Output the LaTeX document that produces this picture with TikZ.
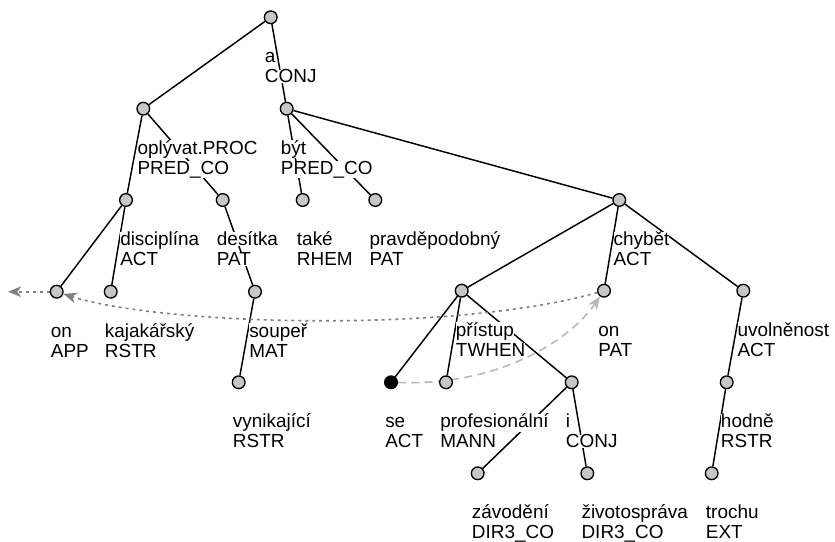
\documentclass[tikz,border=0pt]{standalone}
\usepackage{fontspec}
\setmainfont{Liberation Sans}
\usepackage{tikz}
\usetikzlibrary{arrows.meta, calc}
\pgfdeclarelayer{bg}
\pgfsetlayers{bg,main}
\definecolor{nodegray}{gray}{0.78}
\definecolor{corefgray}{gray}{0.5}
\definecolor{gramgray}{gray}{0.72}
\tikzset{
  tnode/.style={circle, fill=nodegray, draw=black, line width=1pt, inner sep=0pt, minimum size=9.5pt},
  lbl/.style={fill=white, inner sep=0pt, anchor=base west, font=\fontsize{14.2pt}{17pt}\selectfont},
  tedge/.style={line width=1.1pt},
  coref/.style={corefgray, line width=1.2pt, dash pattern=on 2.2pt off 3pt, -{Stealth[length=10pt, width=8pt, inset=3pt]}},
  gcoref/.style={gramgray, line width=1.2pt, dash pattern=on 6pt off 4pt, -{Stealth[length=10pt, width=8pt, inset=3pt]}}
}
% two label lines under a tree node
\newcommand{\tlab}[3]{%
  \node[lbl] (#1-a) at ([shift={(-6,45.5)}]#1) {#2};
  \node[lbl] (#1-b) at ([shift={(-6,65.5)}]#1) {#3};}

\begin{document}
\begin{tikzpicture}[x=0.75pt, y=-0.75pt]
  \useasboundingbox (0,0) rectangle (835,542);

  % nodes
  \node[tnode] (root) at (270.7, 17.3) {};
  \node[tnode] (oplyvat) at (143.3, 108.7) {};
  \node[tnode] (byt) at (286.7, 108.7) {};
  \node[tnode] (discipl) at (126, 200) {};
  \node[tnode] (desitka) at (222.7, 200) {};
  \node[tnode] (take) at (302.7, 200) {};
  \node[tnode] (pravdep) at (375.3, 200) {};
  \node[tnode] (chybet) at (619.3, 200) {};
  \node[tnode] (onapp) at (56.7, 291.7) {};
  \node[tnode] (kajak) at (110.7, 291.7) {};
  \node[tnode] (souper) at (255, 291.7) {};
  \node[tnode] (pristup) at (461.7, 290.7) {};
  \node[tnode] (onpat) at (604, 290.7) {};
  \node[tnode] (uvoln) at (743.3, 290.7) {};
  \node[tnode] (vynik) at (238.7, 382.3) {};
  \node[tnode, fill=black] (se) at (391, 382.3) {};
  \node[tnode] (profes) at (446, 382.3) {};
  \node[tnode] (conji) at (571.7, 382.3) {};
  \node[tnode] (hodne) at (726.7, 382.3) {};
  \node[tnode] (zavod) at (477.7, 473.3) {};
  \node[tnode] (zivot) at (587.3, 473.3) {};
  \node[tnode] (trochu) at (711.7, 473.3) {};
  \coordinate (outside) at (8, 291.7);

  % labels
  \tlab{root}{a}{CONJ}
  \tlab{oplyvat}{oplývat.PROC}{PRED\_CO}
  \tlab{byt}{být}{PRED\_CO}
  \tlab{discipl}{disciplína}{ACT}
  \tlab{desitka}{desítka}{PAT}
  \tlab{take}{také}{RHEM}
  \tlab{pravdep}{pravděpodobný}{PAT}
  \tlab{chybet}{chybět}{ACT}
  \tlab{onapp}{on}{APP}
  \tlab{kajak}{kajakářský}{RSTR}
  \tlab{souper}{soupeř}{MAT}
  \tlab{pristup}{přístup}{TWHEN}
  \tlab{onpat}{on}{PAT}
  \tlab{uvoln}{uvolněnost}{ACT}
  \tlab{vynik}{vynikající}{RSTR}
  \tlab{se}{se}{ACT}
  \tlab{profes}{profesionální}{MANN}
  \tlab{conji}{i}{CONJ}
  \tlab{hodne}{hodně}{RSTR}
  \tlab{zavod}{závodění}{DIR3\_CO}
  \tlab{zivot}{životospráva}{DIR3\_CO}
  \tlab{trochu}{trochu}{EXT}

  \begin{pgfonlayer}{bg}
    % edges
    \draw[tedge] (root) -- (oplyvat);
    \draw[tedge] (root) -- (byt);
    \draw[tedge] (oplyvat) -- (discipl);
    \draw[tedge] (oplyvat) -- (desitka);
    \draw[tedge] (byt) -- (take);
    \draw[tedge] (byt) -- (pravdep);
    \draw[tedge] (byt) -- (chybet);
    \draw[tedge] (discipl) -- (onapp);
    \draw[tedge] (discipl) -- (kajak);
    \draw[tedge] (desitka) -- (souper);
    \draw[tedge] (souper) -- (vynik);
    \draw[tedge] (chybet) -- (pristup);
    \draw[tedge] (chybet) -- (onpat);
    \draw[tedge] (chybet) -- (uvoln);
    \draw[tedge] (pristup) -- (se);
    \draw[tedge] (pristup) -- (profes);
    \draw[tedge] (pristup) -- (conji);
    \draw[tedge] (conji) -- (zavod);
    \draw[tedge] (conji) -- (zivot);
    \draw[tedge] (uvoln) -- (hodne);
    \draw[tedge] (hodne) -- (trochu);

    % coreference arrows
    \draw[coref] (onapp) -- (outside);
    \draw[coref] (onpat) .. controls (450,334) and (160,325) .. (onapp);
    \draw[gcoref] (se) .. controls (500,386) and (570,340) .. (onpat);
  \end{pgfonlayer}
\end{tikzpicture}
\end{document}
